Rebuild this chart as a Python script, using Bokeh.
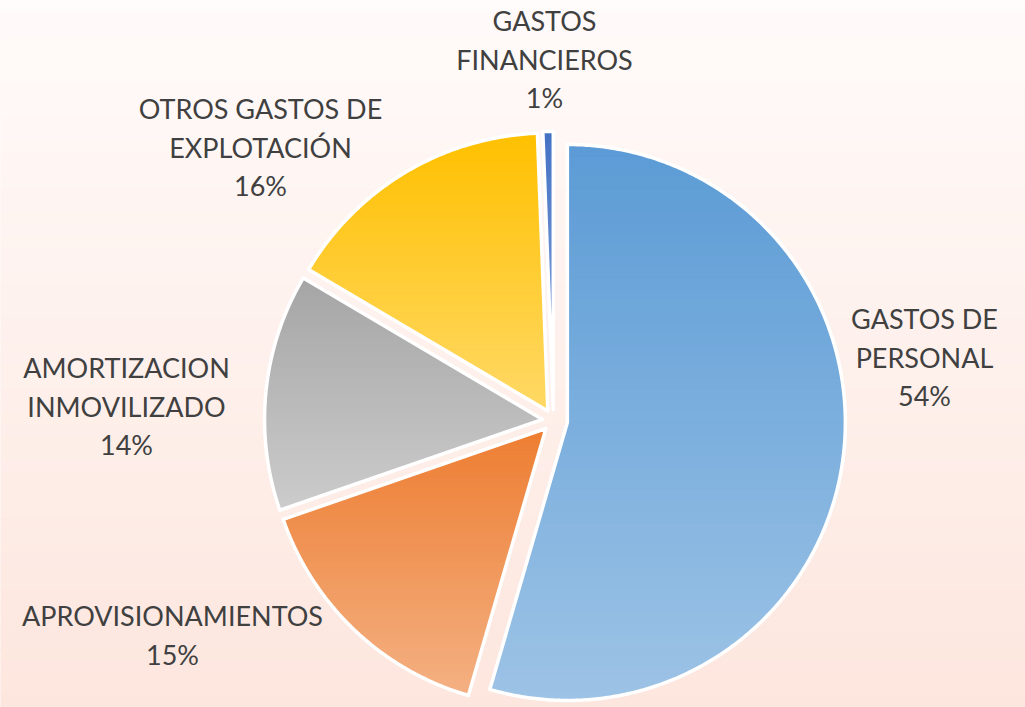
import numpy as np
from bokeh.plotting import figure
from bokeh.models import Range1d
from bokeh.embed import file_html
from bokeh.resources import INLINE
from bokeh.core.properties import value

# ---------------- data ----------------
categories = ["GASTOS DE PERSONAL", "APROVISIONAMIENTOS", "AMORTIZACION INMOVILIZADO",
              "OTROS GASTOS DE EXPLOTACIÓN", "GASTOS FINANCIEROS"]
label_lines = [["GASTOS DE", "PERSONAL"], ["APROVISIONAMIENTOS"], ["AMORTIZACION", "INMOVILIZADO"],
               ["OTROS GASTOS DE", "EXPLOTACIÓN"], ["GASTOS", "FINANCIEROS"]]
shares = [54.5, 15.2, 13.8, 15.9, 0.6]
top_colors = ["#5B9BD5", "#ED7D31", "#A5A5A5", "#FFC000", "#4472C4"]
bottom_colors = ["#9DC3E6", "#F4B183", "#CCCCCC", "#FFD966", "#8FAADC"]

# ---------------- layout (reference pixel space, y downward -> data y = -px) ----------------
CX, CY = 553.0, 420.0
R = 278.0
EXPLODE = [14.0, 11.0, 11.0, 11.0, 11.0]
label_pos = [(924, 318), (172, 615), (126, 367), (260, 108), (544, 20)]
LINE_STEP = 38.5
FONT = value("Lato")
FONT_SIZE = "27px"

W, H = 1025, 707
p = figure(width=W, height=H, output_backend="svg", toolbar_location=None,
           x_range=Range1d(0, W), y_range=Range1d(-H, 0), min_border=0)
p.axis.visible = False
p.grid.visible = False
p.outline_line_color = None
p.border_fill_color = "#FFFAF9"
p.background_fill_color = "#FFFAF9"


def hex2rgb(h):
    h = h.lstrip("#")
    return np.array([int(h[i:i + 2], 16) for i in (0, 2, 4)], dtype=float)


def mix(c_top, c_bot, t):
    a, b = hex2rgb(c_top), hex2rgb(c_bot)
    c = b + (a - b) * t
    return "#%02x%02x%02x" % tuple(int(round(v)) for v in c)


# background gradient
nb = 60
ys_edges = np.linspace(0, H, nb + 1)
bg_cols = [mix("#FFFBFA", "#FDE6DE", 1 - (i + 0.5) / nb) for i in range(nb)]
p.quad(left=-2, right=W + 2, top=[-ys_edges[i] + (1 if i == 0 else 0) for i in range(nb)],
       bottom=[-ys_edges[i + 1] - (1 if i == nb - 1 else 0.5) for i in range(nb)],
       fill_color=bg_cols, line_color=bg_cols, line_width=1)


def clip(poly, keep, inter):
    out = []
    n = len(poly)
    for i in range(n):
        cur, prev = poly[i], poly[i - 1]
        if keep(cur):
            if not keep(prev):
                out.append(inter(prev, cur))
            out.append(cur)
        elif keep(prev):
            out.append(inter(prev, cur))
    return out


def inter_y(Y):
    def f(a, b):
        t = (Y - a[1]) / (b[1] - a[1])
        return (a[0] + t * (b[0] - a[0]), Y)
    return f


total = sum(shares)
angles = np.cumsum([0] + [s / total * 360.0 for s in shares])

band_xs, band_ys, band_cols = [], [], []
out_xs, out_ys = [], []
for i, s in enumerate(shares):
    a0, a1 = np.radians(angles[i]), np.radians(angles[i + 1])
    mid = (a0 + a1) / 2
    tx = CX + EXPLODE[i] * np.sin(mid)
    ty = -CY + EXPLODE[i] * np.cos(mid)
    th = np.linspace(a0, a1, max(4, int(np.degrees(a1 - a0) * 2)))
    poly = [(tx, ty)] + [(tx + R * np.sin(t), ty + R * np.cos(t)) for t in th]
    out_xs.append([q[0] for q in poly])
    out_ys.append([q[1] for q in poly])
    ymin = min(q[1] for q in poly)
    ymax = max(q[1] for q in poly)
    nbands = 50
    edges = np.linspace(ymin, ymax, nbands + 1)
    for k in range(nbands):
        lo, hi = edges[k], edges[k + 1]
        pc = clip(poly, lambda q, lo=lo: q[1] >= lo, inter_y(lo))
        if len(pc) < 3:
            continue
        pc = clip(pc, lambda q, hi=hi: q[1] <= hi, inter_y(hi))
        if len(pc) < 3:
            continue
        band_xs.append([q[0] for q in pc])
        band_ys.append([q[1] for q in pc])
        band_cols.append(mix(top_colors[i], bottom_colors[i], (k + 0.5) / nbands))

p.patches(band_xs, band_ys, fill_color=band_cols, line_color=band_cols, line_width=1)
p.patches(out_xs, out_ys, fill_alpha=0, line_color="white", line_width=3.5, line_join="round")

# labels
tx_, ty_, tt_ = [], [], []
for i, s in enumerate(shares):
    lines = label_lines[i] + ["%d%%" % max(1, round(s))]
    x0, y0 = label_pos[i]
    for j, ln in enumerate(lines):
        tx_.append(x0)
        ty_.append(-(y0 + j * LINE_STEP))
        tt_.append(ln)
p.text(tx_, ty_, text=tt_, text_font=FONT, text_font_size=FONT_SIZE, text_color="#404040",
       text_align="center", text_baseline="middle")

open("out.html", "w").write(file_html(p, INLINE))
